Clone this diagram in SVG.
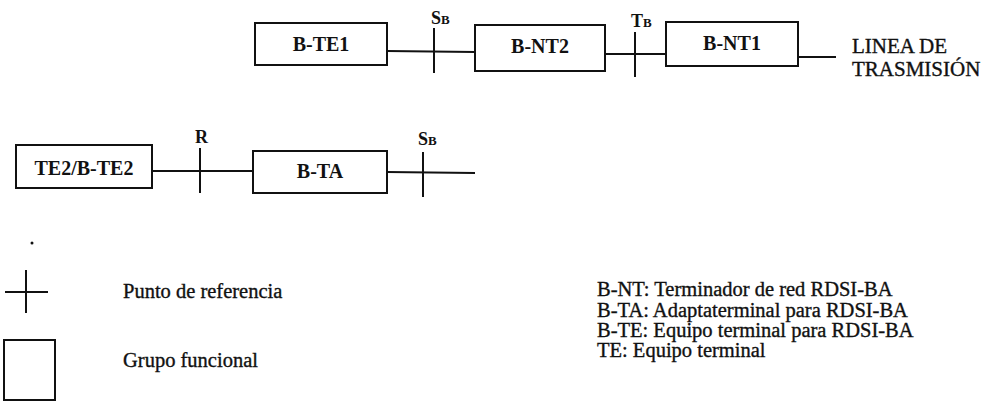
<svg xmlns="http://www.w3.org/2000/svg" width="992" height="402" viewBox="0 0 992 402">
<style>
.box{fill:#fff;stroke:#111;stroke-width:2}
.ln{stroke:#111;stroke-width:2;fill:none}
.lbl{font-family:"Liberation Serif","DejaVu Serif",serif;font-size:20px;font-weight:bold;fill:#111;text-anchor:middle}
.ref{font-family:"Liberation Serif","DejaVu Serif",serif;font-size:18px;font-weight:bold;fill:#111}
.txt{font-family:"Liberation Serif","DejaVu Serif",serif;font-size:20.5px;font-weight:normal;fill:#111;stroke:#111;stroke-width:0.35}
.big{font-family:"Liberation Serif","DejaVu Serif",serif;font-size:21px;font-weight:normal;fill:#111;stroke:#111;stroke-width:0.35}
</style>
<rect width="992" height="402" fill="#fff"/>
<g id="connectors">
<line class="ln" x1="387" y1="51" x2="475" y2="52"/>
<line class="ln" x1="605" y1="54" x2="666" y2="54"/>
<line class="ln" x1="798" y1="57" x2="836" y2="57"/>
<line class="ln" x1="152" y1="171" x2="253" y2="171"/>
<line class="ln" x1="387" y1="172" x2="475" y2="173"/>
</g>
<g id="ref-SB-top">
<line class="ln" x1="434" y1="28" x2="434" y2="73"/>
<text class="ref" x="431" y="24">S<tspan font-size="13">B</tspan></text>
</g>
<g id="ref-TB">
<line class="ln" x1="635" y1="32" x2="635" y2="77"/>
<text class="ref" x="631" y="27">T<tspan font-size="13">B</tspan></text>
</g>
<g id="ref-R">
<line class="ln" x1="200" y1="148" x2="200" y2="193"/>
<text class="ref" x="195" y="143">R</text>
</g>
<g id="ref-SB-bottom">
<line class="ln" x1="423" y1="152" x2="423" y2="197"/>
<text class="ref" x="418" y="145">S<tspan font-size="13">B</tspan></text>
</g>
<g id="B-TE1">
<rect class="box" x="255" y="23" width="132" height="42"/>
<text class="lbl" x="321" y="51">B-TE1</text>
</g>
<g id="B-NT2">
<rect class="box" x="475" y="25" width="130" height="46"/>
<text class="lbl" x="540" y="53">B-NT2</text>
</g>
<g id="B-NT1">
<rect class="box" x="666" y="22" width="132" height="44"/>
<text class="lbl" x="732" y="50">B-NT1</text>
</g>
<g id="linea">
<text class="big" x="852" y="53">LINEA DE</text>
<text class="big" x="852" y="76">TRASMISIÓN</text>
</g>
<g id="TE2-B-TE2">
<rect class="box" x="16" y="145" width="136" height="43"/>
<text class="lbl" x="84" y="175">TE2/B-TE2</text>
</g>
<g id="B-TA">
<rect class="box" x="253" y="151" width="134" height="42"/>
<text class="lbl" x="320" y="178">B-TA</text>
</g>
<circle cx="32" cy="243" r="1.5" fill="#111"/>
<g id="legend">
<line class="ln" x1="5" y1="292" x2="48" y2="292"/>
<line class="ln" x1="26" y1="270" x2="26" y2="313"/>
<text class="txt" x="123" y="298">Punto de referencia</text>
<rect class="box" x="4" y="340" width="51" height="60"/>
<text class="txt" x="123" y="367">Grupo funcional</text>
</g>
<g id="definitions">
<text class="txt" x="597" y="296">B-NT: Terminador de red RDSI-BA</text>
<text class="txt" x="597" y="317">B-TA: Adaptaterminal para RDSI-BA</text>
<text class="txt" x="597" y="337">B-TE: Equipo terminal para RDSI-BA</text>
<text class="txt" x="597" y="357">TE: Equipo terminal</text>
</g>
</svg>
